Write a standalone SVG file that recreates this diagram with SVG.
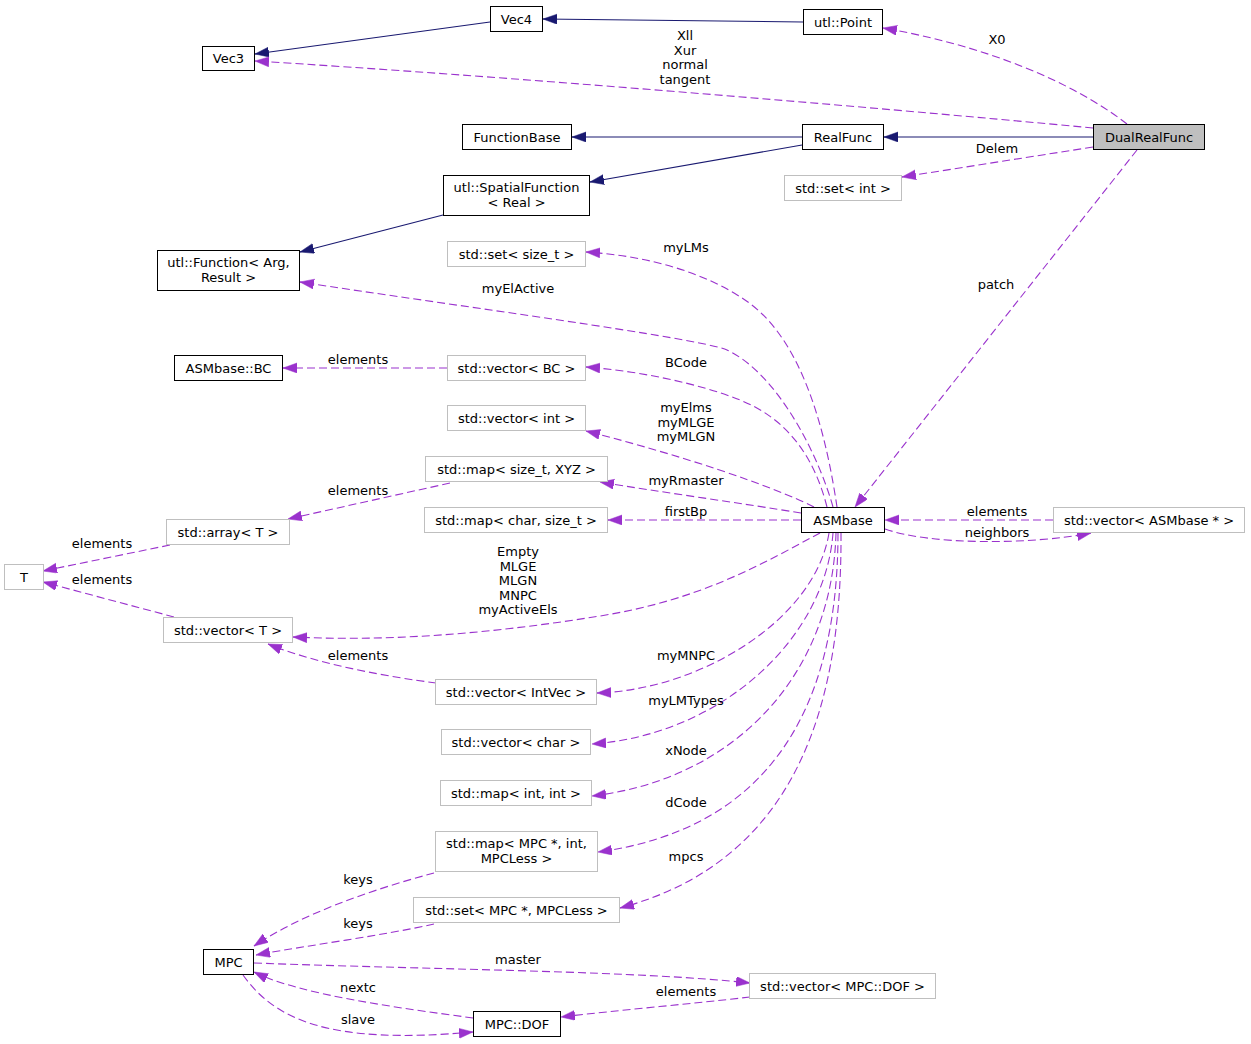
<svg xmlns="http://www.w3.org/2000/svg" width="1251" height="1044" viewBox="0 0 1251 1044">
<style>
.nb rect{fill:#ffffff;stroke:#000000;stroke-width:1}
.ng rect{fill:#ffffff;stroke:#bfbfbf;stroke-width:1}
.nh rect{fill:#bfbfbf;stroke:#000000;stroke-width:1}
text{font-family:"DejaVu Sans","Liberation Sans",sans-serif;font-size:13px;text-anchor:middle;fill:#000000}
.s{fill:none;stroke:#191970;stroke-width:1.1;marker-end:url(#an)}
.d{fill:none;stroke:#9a32cd;stroke-width:1.1;stroke-dasharray:8,4;marker-end:url(#ad)}
</style>
<defs>
<marker id="an" markerUnits="userSpaceOnUse" markerWidth="15" markerHeight="11" refX="14" refY="5" orient="auto"><path d="M0,0 L14,5 L0,10 z" fill="#191970" stroke="#191970" stroke-width="0.5"/></marker>
<marker id="ad" markerUnits="userSpaceOnUse" markerWidth="15" markerHeight="11" refX="14" refY="5" orient="auto"><path d="M0,0 L14,5 L0,10 z" fill="#9a32cd" stroke="#9a32cd" stroke-width="0.5"/></marker>
</defs>
<rect x="0" y="0" width="1251" height="1044" fill="#ffffff"/>
<g id="edges">
<path class="s" d="M803,22 L543,19"/>
<path class="s" d="M490,22 L255,54"/>
<path class="s" d="M1093,137 L884,137"/>
<path class="s" d="M802,137 L572,137"/>
<path class="s" d="M802,145 L590,182"/>
<path class="s" d="M443,215 L300,252"/>
<path class="d" d="M1093,128 C850,105 500,76 255,61"/>
<path class="d" d="M1127,124 C1090,95 1010,50 883,28"/>
<path class="d" d="M1093,147 L902,177"/>
<path class="d" d="M1137,150 L855,507"/>
<path class="d" d="M837,507 C827,440 805,340 745,300 C705,273 650,256 586,252"/>
<path class="d" d="M833,507 C820,460 780,375 727,350 C700,338 450,305 300,282"/>
<path class="d" d="M827,507 C815,460 790,420 740,400 C700,384 640,371 586,367"/>
<path class="d" d="M447,368 L283,368"/>
<path class="d" d="M814,507 C770,485 680,455 586,431"/>
<path class="d" d="M801,513 C740,503 660,492 600,482"/>
<path class="d" d="M450,483 L288,519"/>
<path class="d" d="M801,520 L608,520"/>
<path class="d" d="M1053,520 L885,520"/>
<path class="d" d="M885,529 C930,545 1030,545 1091,533"/>
<path class="d" d="M170,545 L43,571"/>
<path class="d" d="M174,617 L43,582"/>
<path class="d" d="M820,533 C760,565 700,600 600,616 C500,632 400,642 293,637"/>
<path class="d" d="M436,683 C390,677 320,665 268,644"/>
<path class="d" d="M829,533 C815,620 700,690 597,693"/>
<path class="d" d="M833,533 C825,640 720,735 592,744"/>
<path class="d" d="M836,533 C832,680 730,780 592,796"/>
<path class="d" d="M838,533 C838,720 760,830 598,852"/>
<path class="d" d="M841,533 C842,700 800,860 620,908"/>
<path class="d" d="M434,873 C370,890 300,915 254,946"/>
<path class="d" d="M434,924 C380,936 310,945 256,955"/>
<path class="d" d="M254,963 C450,970 640,971 750,983"/>
<path class="d" d="M750,997 C690,1004 620,1010 561,1017"/>
<path class="d" d="M473,1018 C400,1008 300,995 254,972"/>
<path class="d" d="M243,975 C275,1020 330,1045 473,1032"/>
<text x="685" y="40">Xll</text>
<text x="685" y="54.5">Xur</text>
<text x="685" y="69">normal</text>
<text x="685" y="83.5">tangent</text>
<text x="997" y="44">X0</text>
<text x="997" y="152.5">Delem</text>
<text x="996" y="289">patch</text>
<text x="686" y="252">myLMs</text>
<text x="518" y="293">myElActive</text>
<text x="686" y="367">BCode</text>
<text x="358" y="364">elements</text>
<text x="686" y="412">myElms</text>
<text x="686" y="426.5">myMLGE</text>
<text x="686" y="441">myMLGN</text>
<text x="686" y="485">myRmaster</text>
<text x="358" y="495">elements</text>
<text x="686" y="515.5">firstBp</text>
<text x="997" y="516">elements</text>
<text x="997" y="537">neighbors</text>
<text x="102" y="547.5">elements</text>
<text x="102" y="584">elements</text>
<text x="518" y="556">Empty</text>
<text x="518" y="570.5">MLGE</text>
<text x="518" y="585">MLGN</text>
<text x="518" y="599.5">MNPC</text>
<text x="518" y="614">myActiveEls</text>
<text x="358" y="660">elements</text>
<text x="686" y="660">myMNPC</text>
<text x="686" y="705">myLMTypes</text>
<text x="686" y="755">xNode</text>
<text x="686" y="807">dCode</text>
<text x="686" y="861">mpcs</text>
<text x="358" y="884">keys</text>
<text x="358" y="928">keys</text>
<text x="518" y="964">master</text>
<text x="686" y="996">elements</text>
<text x="358" y="992">nextc</text>
<text x="358" y="1024">slave</text>
</g>
<g id="Vec4" class="nb"><rect x="490.5" y="6.5" width="52" height="25"/><text x="516.5" y="23.5">Vec4</text></g>
<g id="Vec3" class="nb"><rect x="202.5" y="46.5" width="52" height="24"/><text x="228.5" y="63">Vec3</text></g>
<g id="utlPoint" class="nb"><rect x="803.5" y="9.5" width="79" height="25"/><text x="843" y="26.5">utl::Point</text></g>
<g id="DualRealFunc" class="nh"><rect x="1093.5" y="124.5" width="111" height="25"/><text x="1149" y="141.5">DualRealFunc</text></g>
<g id="RealFunc" class="nb"><rect x="802.5" y="124.5" width="81" height="25"/><text x="843" y="141.5">RealFunc</text></g>
<g id="FunctionBase" class="nb"><rect x="462.5" y="124.5" width="109" height="25"/><text x="517" y="141.5">FunctionBase</text></g>
<g id="SpatialFunction" class="nb"><rect x="443.5" y="175.5" width="146" height="40"/><text x="516.5" y="192">utl::SpatialFunction</text><text x="516.5" y="206.5">&lt; Real &gt;</text></g>
<g id="utlFunction" class="nb"><rect x="157.5" y="250.5" width="142" height="40"/><text x="228.5" y="267">utl::Function&lt; Arg,</text><text x="228.5" y="281.5">Result &gt;</text></g>
<g id="setSizeT" class="ng"><rect x="447.5" y="241.5" width="138" height="25"/><text x="516.5" y="258.5">std::set&lt; size_t &gt;</text></g>
<g id="setInt" class="ng"><rect x="784.5" y="175.5" width="117" height="25"/><text x="843" y="192.5">std::set&lt; int &gt;</text></g>
<g id="ASMbaseBC" class="nb"><rect x="174.5" y="355.5" width="108" height="25"/><text x="228.5" y="372.5">ASMbase::BC</text></g>
<g id="vectorBC" class="ng"><rect x="447.5" y="355.5" width="138" height="25"/><text x="516.5" y="372.5">std::vector&lt; BC &gt;</text></g>
<g id="vectorInt" class="ng"><rect x="447.5" y="405.5" width="138" height="25"/><text x="516.5" y="422.5">std::vector&lt; int &gt;</text></g>
<g id="mapSizeTXYZ" class="ng"><rect x="425.5" y="456.5" width="182" height="25"/><text x="516.5" y="473.5">std::map&lt; size_t, XYZ &gt;</text></g>
<g id="mapCharSizeT" class="ng"><rect x="424.5" y="507.5" width="183" height="25"/><text x="516" y="524.5">std::map&lt; char, size_t &gt;</text></g>
<g id="arrayT" class="ng"><rect x="166.5" y="519.5" width="123" height="25"/><text x="228" y="536.5">std::array&lt; T &gt;</text></g>
<g id="T" class="ng"><rect x="4.5" y="564.5" width="39" height="25"/><text x="24" y="581.5">T</text></g>
<g id="vectorT" class="ng"><rect x="163.5" y="617.5" width="129" height="25"/><text x="228" y="634.5">std::vector&lt; T &gt;</text></g>
<g id="ASMbase" class="nb"><rect x="801.5" y="507.5" width="83" height="25"/><text x="843" y="524.5">ASMbase</text></g>
<g id="vectorASMbasePtr" class="ng"><rect x="1053.5" y="507.5" width="191" height="25"/><text x="1149" y="524.5">std::vector&lt; ASMbase * &gt;</text></g>
<g id="vectorIntVec" class="ng"><rect x="435.5" y="679.5" width="161" height="25"/><text x="516" y="696.5">std::vector&lt; IntVec &gt;</text></g>
<g id="vectorChar" class="ng"><rect x="441.5" y="729.5" width="149" height="25"/><text x="516" y="746.5">std::vector&lt; char &gt;</text></g>
<g id="mapIntInt" class="ng"><rect x="440.5" y="780.5" width="151" height="25"/><text x="516" y="797.5">std::map&lt; int, int &gt;</text></g>
<g id="mapMPC" class="ng"><rect x="435.5" y="831.5" width="162" height="40"/><text x="516.5" y="848">std::map&lt; MPC *, int,</text><text x="516.5" y="862.5">MPCLess &gt;</text></g>
<g id="setMPC" class="ng"><rect x="413.5" y="897.5" width="206" height="25"/><text x="516.5" y="914.5">std::set&lt; MPC *, MPCLess &gt;</text></g>
<g id="MPC" class="nb"><rect x="203.5" y="949.5" width="50" height="25"/><text x="228.5" y="966.5">MPC</text></g>
<g id="MPCDOF" class="nb"><rect x="473.5" y="1011.5" width="87" height="25"/><text x="517" y="1028.5">MPC::DOF</text></g>
<g id="vectorMPCDOF" class="ng"><rect x="749.5" y="973.5" width="186" height="25"/><text x="842.5" y="990.5">std::vector&lt; MPC::DOF &gt;</text></g>
</svg>
